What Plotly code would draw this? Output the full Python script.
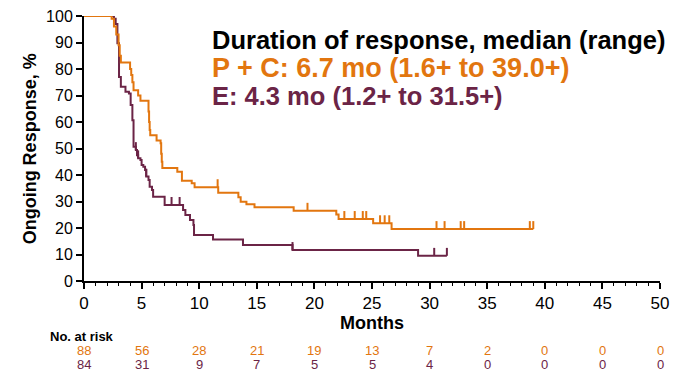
import plotly.graph_objects as go

# ---- data ----
pc_times = [0, 2.4, 2.6, 2.8, 3.0, 3.1, 3.2, 4.0, 4.1, 4.2, 4.3, 4.7, 4.9, 5.6, 5.65, 5.7, 5.75,
            6.3, 6.65, 6.7, 6.75, 6.8, 8.1, 8.5, 9.35, 9.6, 11.65, 13.4, 13.6, 14.1, 14.8,
            18.2, 21.9, 22.1, 25.1, 26.7, 39.0]
pc_surv = [100, 99, 96, 93, 89, 85, 82.5, 80, 77.7, 75, 72, 70, 68, 64, 60, 57, 55,
           53, 52, 48, 45, 42.6, 41.2, 37.8, 36.9, 35.4, 33.3, 31.6, 29.9, 29, 27.8,
           26.5, 25.1, 23.4, 21.8, 19.6, 19.6]
pc_censor = [1.6, 2.1, 11.6, 19.4, 22.6, 23.5, 24.2, 24.5, 25.7, 26.1, 26.5, 30.6, 31.3, 32.7, 33.0, 38.7, 39.0]

e_times = [0, 2.6, 2.75, 2.9, 3.04, 3.2, 3.6, 3.9, 4.05, 4.2, 4.3, 4.5, 4.6, 4.7, 4.9, 5.0, 5.15,
           5.3, 5.4, 5.6, 5.7, 5.9, 6.0, 7.0, 8.6, 8.8, 9.2, 9.5, 9.55, 11.2, 13.8, 18.1, 29.0, 31.5]
e_surv = [100, 99, 97, 89.7, 77, 73.3, 71.4, 70.8, 66.4, 60.7, 50.7, 49.4, 47.5, 46.3, 45.7, 43.8, 43.1,
          41.9, 39.4, 38.1, 35.6, 34.3, 31.8, 28.7, 26.8, 24.9, 23.0, 21.1, 17.4, 15.7, 13.6, 11.7, 9.5, 9.5]
e_censor = [1.2, 1.4, 4.5, 4.7, 5.4, 7.6, 8.3, 18.1, 30.4, 31.5]

risk_months = [0, 5, 10, 15, 20, 25, 30, 35, 40, 45, 50]
pc_risk = [88, 56, 28, 21, 19, 13, 7, 2, 0, 0, 0]
e_risk = [84, 31, 9, 7, 5, 5, 4, 0, 0, 0, 0]

x_ticks = [0, 5, 10, 15, 20, 25, 30, 35, 40, 45, 50]
y_ticks = [0, 10, 20, 30, 40, 50, 60, 70, 80, 90, 100]

ORANGE = "#E2760F"
PURPLE = "#6B2446"
FONT = "Liberation Sans, Arial, sans-serif"


def step_value(times, surv, t):
    v = surv[0]
    for tt, s in zip(times, surv):
        if tt <= t:
            v = s
        else:
            break
    return v


def censor_segments(times, surv, cens, h=3.0):
    xs, ys = [], []
    for c in cens:
        v = step_value(times, surv, c)
        xs += [c, c, None]
        ys += [v, v + h, None]
    return xs, ys


fig = go.Figure()

for times, surv, cens, col in [(e_times, e_surv, e_censor, PURPLE),
                                (pc_times, pc_surv, pc_censor, ORANGE)]:
    fig.add_trace(go.Scatter(x=times, y=surv, mode="lines", line=dict(color=col, width=2, shape="hv"),
                             cliponaxis=False, showlegend=False, hoverinfo="skip"))
    cx, cy = censor_segments(times, surv, cens)
    fig.add_trace(go.Scatter(x=cx, y=cy, mode="lines", line=dict(color=col, width=2),
                             cliponaxis=False, showlegend=False, hoverinfo="skip"))

ann = []
ann.append(dict(text="<b>Duration of response, median (range)</b>", x=0.219, y=0.909, xref="paper", yref="paper",
                xanchor="left", yanchor="middle", showarrow=False, font=dict(size=25.5, color="black")))
ann.append(dict(text="<b>P + C: 6.7 mo (1.6+ to 39.0+)</b>", x=0.219, y=0.804, xref="paper", yref="paper",
                xanchor="left", yanchor="middle", showarrow=False, font=dict(size=27, color=ORANGE)))
ann.append(dict(text="<b>E: 4.3 mo (1.2+ to 31.5+)</b>", x=0.219, y=0.698, xref="paper", yref="paper",
                xanchor="left", yanchor="middle", showarrow=False, font=dict(size=25.5, color=PURPLE)))
ann.append(dict(text="<b>Ongoing Response, %</b>", x=-0.094, y=0.5, xref="paper", yref="paper", textangle=-90,
                xanchor="center", yanchor="middle", showarrow=False, font=dict(size=18, color="black")))
ann.append(dict(text="<b>Months</b>", x=25, y=-0.158, xref="x", yref="paper",
                xanchor="center", yanchor="middle", showarrow=False, font=dict(size=18, color="black")))
ann.append(dict(text="<b>No. at risk</b>", x=-0.0625, y=-0.211, xref="paper", yref="paper",
                xanchor="left", yanchor="middle", showarrow=False, font=dict(size=13, color="black")))
for m, a, b in zip(risk_months, pc_risk, e_risk):
    ann.append(dict(text=str(a), x=m, y=-0.264, xref="x", yref="paper", xanchor="center", yanchor="middle",
                    showarrow=False, font=dict(size=13, color=ORANGE)))
    ann.append(dict(text=str(b), x=m, y=-0.316, xref="x", yref="paper", xanchor="center", yanchor="middle",
                    showarrow=False, font=dict(size=13, color=PURPLE)))

fig.update_layout(
    width=677, height=372,
    margin=dict(l=84, r=17, t=16, b=91, autoexpand=False),
    paper_bgcolor="white", plot_bgcolor="white",
    font=dict(family=FONT, color="black"),
    annotations=ann,
    xaxis=dict(range=[0, 50], tickvals=x_ticks, ticktext=[str(v) for v in x_ticks], showgrid=False, zeroline=False,
               automargin=False,
               showline=True, linecolor="black", linewidth=2, ticks="outside", ticklen=6, tickwidth=1.5,
               tickcolor="black", tickfont=dict(size=17),
               minor=dict(dtick=1, ticks="outside", ticklen=3, tickcolor="black", tickwidth=1)),
    yaxis=dict(range=[0, 100], tickvals=y_ticks, showgrid=False, zeroline=False, automargin=False,
               showline=True, linecolor="black", linewidth=2, ticks="outside", ticklen=6, tickwidth=1.5,
               tickcolor="black", tickfont=dict(size=16)),
)

fig.write_html("out.html", config={"displayModeBar": False},
               post_script="document.body.style.margin='0px';document.body.style.padding='0px';")
